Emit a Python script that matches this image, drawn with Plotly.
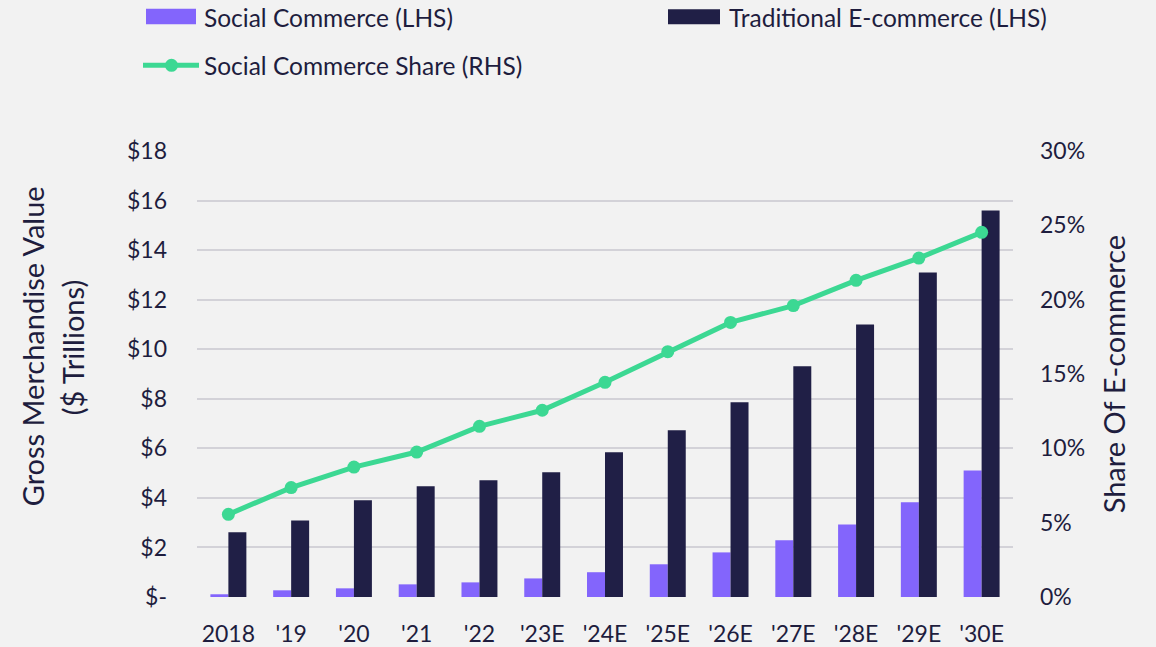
import plotly.graph_objects as go

categories = ["2018", "'19", "'20", "'21", "'22", "'23E", "'24E", "'25E", "'26E", "'27E", "'28E", "'29E", "'30E"]
social_commerce = [0.11, 0.27, 0.35, 0.51, 0.59, 0.75, 1.0, 1.32, 1.80, 2.29, 2.93, 3.82, 5.11]
traditional_ecommerce = [2.61, 3.09, 3.90, 4.47, 4.71, 5.03, 5.84, 6.73, 7.86, 9.31, 11.0, 13.1, 15.6]
social_share = [0.0556, 0.0736, 0.0874, 0.0975, 0.1148, 0.1256, 0.1444, 0.165, 0.1847, 0.196, 0.213, 0.228, 0.2453]

left_tickvals = [0, 2, 4, 6, 8, 10, 12, 14, 16, 18]
left_ticktext = ["$-", "$2", "$4", "$6", "$8", "$10", "$12", "$14", "$16", "$18"]
right_tickvals = [0, 0.05, 0.10, 0.15, 0.20, 0.25, 0.30]

PURPLE = "#8365FC"
NAVY = "#201F46"
GREEN = "#3CD893"
TEXT = "#1E1D3E"
BG = "#F2F2F2"
GRID = "#D3D2D8"
FONT = "Lato"

W, H = 1156, 647
# plot area in page pixels
PL, PR, PT, PB = 197, 1013, 150.7, 596.7
L = PL
R = W - PR
T = PT
B = H - PB
PW = PR - PL
PH = PB - PT


def px(xp):
    return (xp - PL) / PW


def py(yp):
    return (PB - yp) / PH


fig = go.Figure()
fig.add_trace(go.Bar(x=categories, y=social_commerce, name="Social Commerce (LHS)",
                     marker=dict(color=PURPLE, line=dict(width=0)), yaxis="y"))
fig.add_trace(go.Bar(x=categories, y=traditional_ecommerce, name="Traditional E-commerce (LHS)",
                     marker=dict(color=NAVY, line=dict(width=0)), yaxis="y"))
fig.add_trace(go.Scatter(x=categories, y=social_share, name="Social Commerce Share (RHS)",
                         mode="lines+markers", line=dict(color=GREEN, width=5),
                         marker=dict(color=GREEN, size=13), yaxis="y2"))

shapes = [
    dict(type="rect", xref="paper", yref="paper", x0=px(146), x1=px(196), y0=py(24), y1=py(8.5),
         fillcolor=PURPLE, line=dict(width=0)),
    dict(type="rect", xref="paper", yref="paper", x0=px(668), x1=px(720), y0=py(24), y1=py(9),
         fillcolor=NAVY, line=dict(width=0)),
    dict(type="line", xref="paper", yref="paper", x0=px(143), x1=px(199), y0=py(65), y1=py(65),
         line=dict(color=GREEN, width=5)),
    dict(type="circle", xref="paper", yref="paper", x0=px(165), x1=px(178), y0=py(71.5), y1=py(58.5),
         fillcolor=GREEN, line=dict(width=0)),
]

LEG = 24.5
TITLE = 29
annotations = [
    dict(text="Social Commerce (LHS)", xref="paper", yref="paper", x=px(202), y=py(17),
         xanchor="left", yanchor="middle", showarrow=False, font=dict(size=LEG, color=TEXT, family=FONT)),
    dict(text="Traditional E-commerce (LHS)", xref="paper", yref="paper", x=px(727), y=py(17),
         xanchor="left", yanchor="middle", showarrow=False, font=dict(size=LEG, color=TEXT, family=FONT)),
    dict(text="Social Commerce Share (RHS)", xref="paper", yref="paper", x=px(202), y=py(65),
         xanchor="left", yanchor="middle", showarrow=False, font=dict(size=LEG, color=TEXT, family=FONT)),
    dict(text="Gross Merchandise Value", xref="paper", yref="paper", x=px(32), y=py(346),
         xanchor="center", yanchor="middle", textangle=-90, showarrow=False,
         font=dict(size=TITLE, color=TEXT, family=FONT)),
    dict(text="($ Trillions)", xref="paper", yref="paper", x=px(72), y=py(347),
         xanchor="center", yanchor="middle", textangle=-90, showarrow=False,
         font=dict(size=TITLE, color=TEXT, family=FONT)),
    dict(text="Share Of E-commerce", xref="paper", yref="paper", x=px(1113), y=py(374),
         xanchor="center", yanchor="middle", textangle=-90, showarrow=False,
         font=dict(size=TITLE, color=TEXT, family=FONT)),
]

fig.update_layout(
    width=W, height=H,
    margin=dict(l=L, r=R, t=T, b=B, pad=0, autoexpand=False),
    paper_bgcolor=BG, plot_bgcolor=BG,
    barmode="group", bargap=0.427, bargroupgap=0,
    showlegend=False,
    hovermode=False,
    font=dict(family=FONT, color=TEXT, size=22),
    xaxis=dict(type="category", range=[-0.5, len(categories) - 0.5], showgrid=False, zeroline=False,
               showline=False, ticks="", automargin=False,
               tickfont=dict(size=23, color=TEXT, family=FONT), ticklabelstandoff=21),
    yaxis=dict(range=[0, 18], tickvals=left_tickvals, ticktext=left_ticktext, showgrid=True, automargin=False,
               gridcolor=GRID, gridwidth=2, zeroline=False, showline=False, ticks="",
               tickfont=dict(size=23, color=TEXT, family=FONT), ticklabelstandoff=29),
    yaxis2=dict(range=[0, 0.30], tickvals=right_tickvals, tickformat=".0%", overlaying="y", side="right",
                showgrid=False, zeroline=False, showline=False, ticks="", automargin=False,
                tickfont=dict(size=23, color=TEXT, family=FONT), ticklabelstandoff=26),
    shapes=shapes,
    annotations=annotations,
)

fig.write_html("out.html", config={"displayModeBar": False},
               post_script="document.body.style.margin='0px';")
